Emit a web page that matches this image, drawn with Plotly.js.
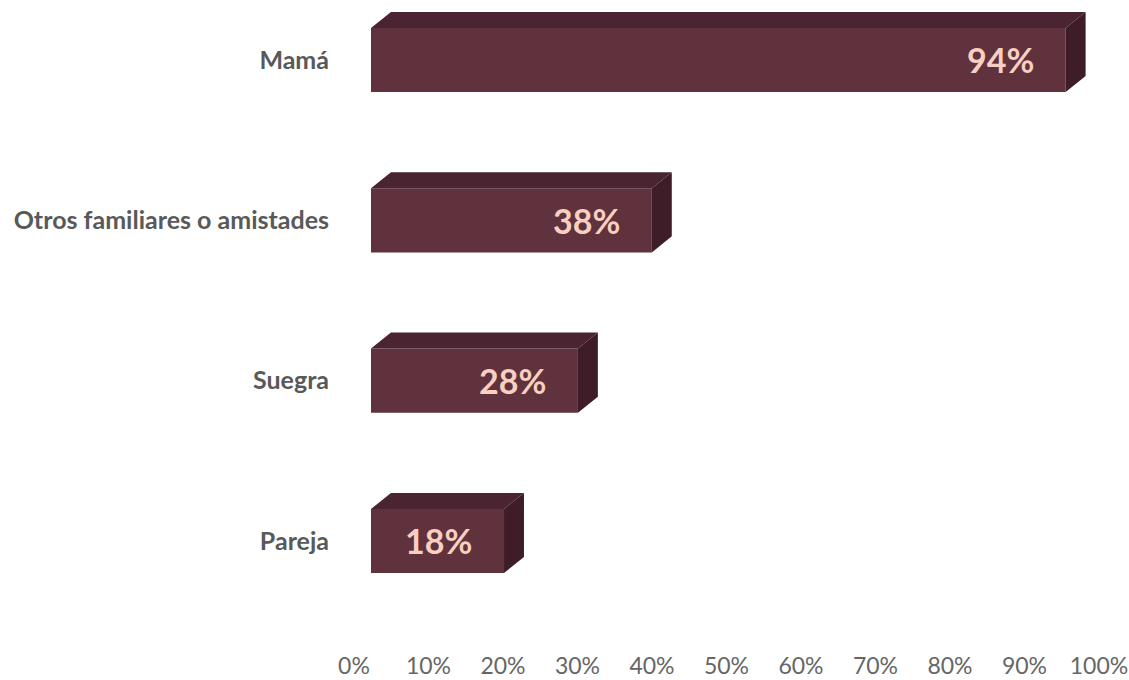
<!DOCTYPE html>
<html><head><meta charset="utf-8">
<script src="https://cdn.plot.ly/plotly-3.0.1.min.js"></script>
<style>html,body{margin:0;padding:0;background:#fff}#chart{width:1129px;height:680px}</style>
</head><body><div id="chart"></div>
<script>
const categories = ['Mamá', 'Otros familiares o amistades', 'Suegra', 'Pareja'];
const values = [94, 38, 28, 18];
const tickValues = [0, 10, 20, 30, 40, 50, 60, 70, 80, 90, 100];
const tickLabels = ['0%', '10%', '20%', '30%', '40%', '50%', '60%', '70%', '80%', '90%', '100%'];
const valueLabels = values.map(v => v + '%');

const FRONT = '#60323e', TOP = '#4a2430', SIDE = '#3f1d28', LABEL = '#f9cfc1';
const DX = 2.7, DY = 0.1, HALF = 0.2;
const idx = categories.map((c, i) => i);

const topX = [], topY = [], sideX = [], sideY = [];
values.forEach((v, i) => {
  topX.push(0, DX, v + DX, v, 0, null);
  topY.push(i - HALF, i - HALF - DY, i - HALF - DY, i - HALF, i - HALF, null);
  sideX.push(v, v + DX, v + DX, v, v, null);
  sideY.push(i - HALF, i - HALF - DY, i + HALF - DY, i + HALF, i - HALF, null);
});

const data = [
  {type: 'scatter', x: [0, 100], y: [-5, -5], xaxis: 'x', yaxis: 'y', mode: 'markers',
   marker: {opacity: 0}, hoverinfo: 'skip', showlegend: false},
  {type: 'bar', orientation: 'h', x: values, y: idx, width: 2 * HALF, xaxis: 'x2', yaxis: 'y',
   marker: {color: FRONT, line: {width: 0}}, hoverinfo: 'skip', showlegend: false},
  {type: 'scatter', x: topX, y: topY, xaxis: 'x2', yaxis: 'y', mode: 'lines', fill: 'toself',
   fillcolor: TOP, line: {width: 0, color: TOP}, hoverinfo: 'skip', showlegend: false},
  {type: 'scatter', x: sideX, y: sideY, xaxis: 'x2', yaxis: 'y', mode: 'lines', fill: 'toself',
   fillcolor: SIDE, line: {width: 0, color: SIDE}, hoverinfo: 'skip', showlegend: false}
];

const annotations = values.map((v, i) => ({
  x: v, y: i, xref: 'x2', yref: 'y', text: valueLabels[i], showarrow: false,
  xanchor: 'right', yanchor: 'middle', xshift: -30,
  font: {family: 'Lato', size: 34, color: LABEL, weight: 700}
}));

const layout = {
  width: 1129, height: 680,
  margin: {l: 354, r: 30, t: 5, b: 32},
  paper_bgcolor: '#ffffff', plot_bgcolor: '#ffffff',
  showlegend: false,
  xaxis: {range: [0, 100], tickmode: 'array', tickvals: tickValues, ticktext: tickLabels,
          tickfont: {family: 'Lato', size: 23, color: '#666666'},
          showgrid: false, zeroline: false, showline: false, ticks: '', ticklabelstandoff: 2,
          fixedrange: true},
  xaxis2: {overlaying: 'x', range: [-2.30, 98.51], visible: false, fixedrange: true},
  yaxis: {range: [3.6675, -0.343], tickmode: 'array', tickvals: idx, ticktext: categories,
          tickfont: {family: 'Lato', size: 25, color: '#595959', weight: 700},
          showgrid: false, zeroline: false, showline: false, ticks: '', ticklabelstandoff: 24,
          fixedrange: true},
  annotations: annotations
};

Plotly.newPlot('chart', data, layout, {displayModeBar: false, staticPlot: true});
</script></body></html>
